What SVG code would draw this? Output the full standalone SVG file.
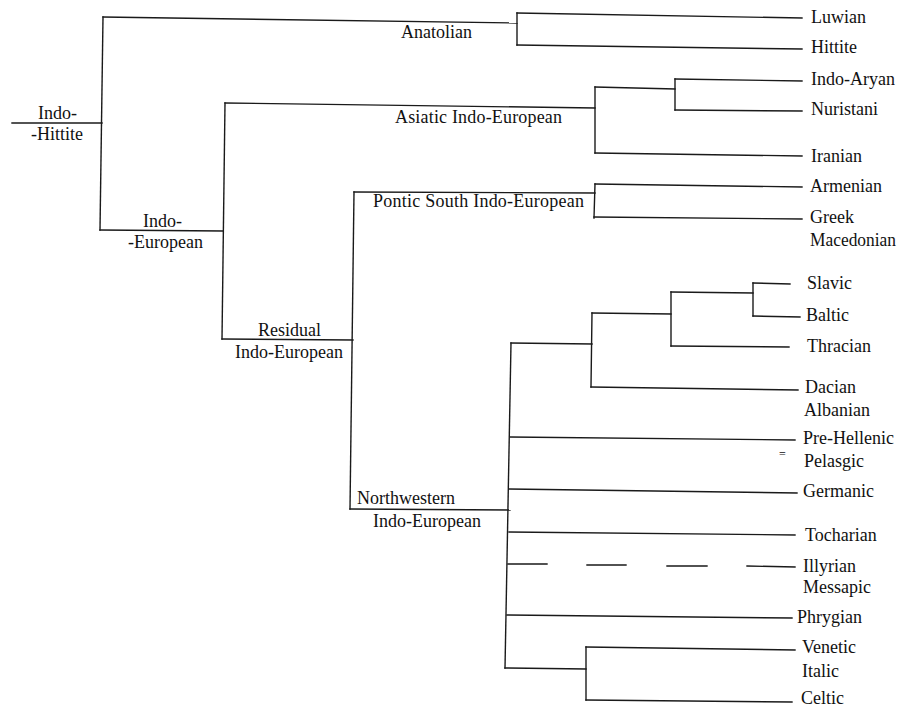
<svg xmlns="http://www.w3.org/2000/svg" width="899" height="712" viewBox="0 0 899 712">
<style>
.e{fill:none;stroke:#1a1a1a;stroke-width:1.4;stroke-linecap:square}
.t{font-family:'Liberation Serif','Times New Roman',serif;font-size:18px;fill:#111}
</style>
<rect width="899" height="712" fill="#fff"/>
<g id="connectors">
<path class="e" d="M12,123 H102"/>
<path class="e" d="M103,17 L100,230"/>
<path class="e" d="M103,17 L517,23"/>
<path class="e" d="M517,13 L517,45"/>
<path class="e" d="M517,13 L802,18"/>
<path class="e" d="M517,45 L802,49"/>
<path class="e" d="M100,230 L223,231"/>
<path class="e" d="M225,103 L222,339"/>
<path class="e" d="M225,103 L595,108"/>
<path class="e" d="M595,87 L595,153"/>
<path class="e" d="M595,87 L675,89"/>
<path class="e" d="M675,79 L675,110"/>
<path class="e" d="M675,79 L802,81"/>
<path class="e" d="M675,110 L802,111"/>
<path class="e" d="M595,153 L802,156"/>
<path class="e" d="M222,339 L353,340"/>
<path class="e" d="M354,192 L350,509"/>
<path class="e" d="M354,192 L595,193"/>
<path class="e" d="M595,184 L594,218"/>
<path class="e" d="M595,184 L802,187"/>
<path class="e" d="M594,217 L802,219"/>
<path class="e" d="M350,509 L510,510"/>
<path class="e" d="M511,343 L505,668"/>
<path class="e" d="M511,343 L592,344"/>
<path class="e" d="M592,313 L591,387"/>
<path class="e" d="M592,313 L671,314"/>
<path class="e" d="M671,292 L671,346"/>
<path class="e" d="M671,292 L753,293"/>
<path class="e" d="M753,283 L753,316"/>
<path class="e" d="M753,283 L790,284"/>
<path class="e" d="M753,316 L800,317"/>
<path class="e" d="M671,346 L789,347"/>
<path class="e" d="M591,387 L798,390"/>
<path class="e" d="M510,437 L795,440"/>
<path class="e" d="M509,489 L797,493"/>
<path class="e" d="M509,532 L795,535"/>
<path class="e" d="M508,564 L547,564 M587,565 L626,565 M667,566 L707,566 M747,566 L795,567"/>
<path class="e" d="M507,615 L792,618"/>
<path class="e" d="M505,668 L586,669"/>
<path class="e" d="M586,647 L586,700"/>
<path class="e" d="M586,647 L795,650"/>
<path class="e" d="M586,700 L792,702"/>
</g>
<g class="t">
<g id="indo-hittite"><text x="38" y="119">Indo-</text><text x="31" y="140">-Hittite</text></g>
<g id="anatolian"><text x="401" y="38">Anatolian</text></g>
<g id="indo-european"><text x="143" y="227">Indo-</text><text x="128" y="248">-European</text></g>
<g id="asiatic"><text x="395" y="123" textLength="167">Asiatic Indo-European</text></g>
<g id="pontic"><text x="373" y="207" textLength="211">Pontic South Indo-European</text></g>
<g id="residual"><text x="258" y="336">Residual</text><text x="235" y="358">Indo-European</text></g>
<g id="northwestern"><text x="357" y="504">Northwestern</text><text x="373" y="527">Indo-European</text></g>
<g id="luwian"><text x="811" y="23">Luwian</text></g>
<g id="hittite"><text x="811" y="53">Hittite</text></g>
<g id="indo-aryan"><text x="811" y="85">Indo-Aryan</text></g>
<g id="nuristani"><text x="811" y="115">Nuristani</text></g>
<g id="iranian"><text x="811" y="162">Iranian</text></g>
<g id="armenian"><text x="810" y="192">Armenian</text></g>
<g id="greek"><text x="810" y="223">Greek</text><text x="810" y="246" textLength="86" lengthAdjust="spacingAndGlyphs">Macedonian</text></g>
<g id="slavic"><text x="807" y="289">Slavic</text></g>
<g id="baltic"><text x="806" y="321">Baltic</text></g>
<g id="thracian"><text x="807" y="352">Thracian</text></g>
<g id="dacian"><text x="805" y="393">Dacian</text><text x="804" y="416">Albanian</text></g>
<g id="pre-hellenic"><text x="803" y="444">Pre-Hellenic</text><text x="779" y="458" style="font-size:12px">=</text><text x="804" y="467">Pelasgic</text></g>
<g id="germanic"><text x="803" y="497">Germanic</text></g>
<g id="tocharian"><text x="805" y="541">Tocharian</text></g>
<g id="illyrian"><text x="803" y="572">Illyrian</text><text x="803" y="593">Messapic</text></g>
<g id="phrygian"><text x="797" y="623">Phrygian</text></g>
<g id="venetic"><text x="802" y="653">Venetic</text><text x="802" y="677">Italic</text></g>
<g id="celtic"><text x="801" y="704">Celtic</text></g>
</g>
</svg>
